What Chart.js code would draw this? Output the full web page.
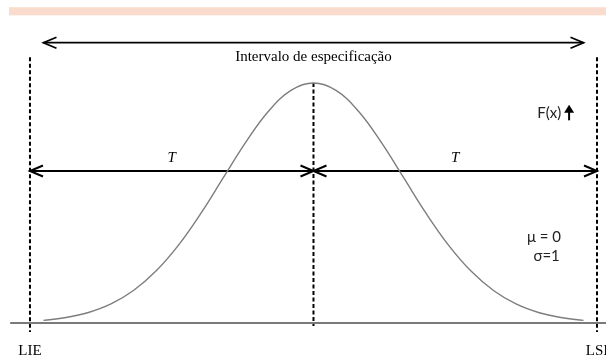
<!DOCTYPE html>
<html>
<head>
<meta charset="utf-8">
<script src="https://cdn.jsdelivr.net/npm/chart.js@4.4.1/dist/chart.umd.min.js"></script>
<style>
html,body{margin:0;padding:0;background:#fff;}
canvas{display:block;}
</style>
</head>
<body>
<canvas id="c" width="606" height="362"></canvas>
<script>
// ---- data (x in sigma units, y = density) ----
const curveX = [-3, -2.75, -2.5, -2.25, -2, -1.75, -1.5, -1.25, -1, -0.75, -0.5, -0.25, 0,
                0.25, 0.5, 0.75, 1, 1.25, 1.5, 1.75, 2, 2.25, 2.5, 2.75, 3];
const curveY = [0.0044, 0.0091, 0.0175, 0.0317, 0.054, 0.0863, 0.1295, 0.1826, 0.242, 0.3011, 0.3521, 0.3867, 0.3989,
                0.3867, 0.3521, 0.3011, 0.242, 0.1826, 0.1295, 0.0863, 0.054, 0.0317, 0.0175, 0.0091, 0.0044];
const specLimits = [-3.15, 3.15];
const specLabels = ['LIE', 'LSI'];
const meanValue = 0;
const peakValue = 0.3989;
const intervalEnds = [-3, 3];
const intervalLabel = 'Intervalo de especificação';
const halfLabel = 'T';
const paramLabels = ['\u03bc = 0', '\u03c3=1'];
const fxLabel = 'F(x)';
const baselineRange = [-3.37, 3.255];
const xRange = [-3.483, 3.25];
const yRange = [-0.0648, 0.537];

// levels (in y units) where the annotation elements sit
const topArrowY = 0.466;
const tArrowY = 0.2527;
const dashTop = 0.442, dashBottom = -0.015, centerDashBottom = -0.005;

function seg(x0, y0, x1, y1, opts) {
  return Object.assign({
    data: [{x: x0, y: y0}, {x: x1, y: y1}],
    showLine: true, pointRadius: 0, borderColor: '#000', borderWidth: 2, fill: false
  }, opts || {});
}

const datasets = [
  seg(baselineRange[0], 0, baselineRange[1], 0, {borderColor: '#7a7a7a', borderWidth: 2}),
  {
    data: curveX.map((x, i) => ({x: x, y: curveY[i]})),
    showLine: true, pointRadius: 0, borderColor: '#7d7d7d', borderWidth: 1.4, tension: 0.4, fill: false
  },
  seg(specLimits[0], dashTop, specLimits[0], dashBottom, {borderDash: [4, 2.5]}),
  seg(specLimits[1], dashTop, specLimits[1], dashBottom, {borderDash: [4, 2.5]}),
  seg(meanValue, peakValue, meanValue, centerDashBottom, {borderDash: [4, 2.5]}),
  seg(intervalEnds[0], topArrowY, intervalEnds[1], topArrowY, {borderWidth: 1.8}),
  seg(specLimits[0], tArrowY, specLimits[1], tArrowY, {borderWidth: 2})
];

function chevron(ctx, px, py, dir) {
  // open arrowhead pointing in dir (+1 right, -1 left)
  ctx.beginPath();
  ctx.moveTo(px - dir * 13, py - 5.5);
  ctx.lineTo(px, py);
  ctx.lineTo(px - dir * 13, py + 5.5);
  ctx.stroke();
}

const decor = {
  id: 'decor',
  beforeDatasetsDraw(chart) {
    const ctx = chart.ctx, xs = chart.scales.x, ys = chart.scales.y;
    ctx.save();
    ctx.fillStyle = '#f9dccd';
    const x0 = xs.getPixelForValue(-3.383), x1 = xs.getPixelForValue(xRange[1]);
    const y0 = ys.getPixelForValue(0.525), y1 = ys.getPixelForValue(0.5115);
    ctx.fillRect(x0, y0, x1 - x0, y1 - y0);
    ctx.restore();
  },
  afterDatasetsDraw(chart) {
    const ctx = chart.ctx, xs = chart.scales.x, ys = chart.scales.y;
    const X = v => xs.getPixelForValue(v), Y = v => ys.getPixelForValue(v);
    ctx.save();
    ctx.strokeStyle = '#000';
    ctx.lineWidth = 1.8;
    ctx.lineJoin = 'miter';
    // top interval arrow
    chevron(ctx, X(intervalEnds[0]), Y(topArrowY), -1);
    chevron(ctx, X(intervalEnds[1]), Y(topArrowY), 1);
    // T arrows
    ctx.lineWidth = 2;
    chevron(ctx, X(specLimits[0]), Y(tArrowY), -1);
    chevron(ctx, X(meanValue), Y(tArrowY), 1);
    chevron(ctx, X(meanValue), Y(tArrowY), -1);
    chevron(ctx, X(specLimits[1]), Y(tArrowY), 1);

    // texts
    ctx.fillStyle = '#000';
    ctx.textAlign = 'center';
    ctx.textBaseline = 'middle';
    ctx.font = '15px "Liberation Serif", "DejaVu Serif", serif';
    ctx.fillText(intervalLabel, X(meanValue), Y(0.442));
    ctx.fillText(specLabels[0], X(specLimits[0]), Y(-0.046));
    ctx.fillText(specLabels[1], X(specLimits[1]), Y(-0.046));
    ctx.font = 'italic 15px "Liberation Serif", "DejaVu Serif", serif';
    ctx.fillText(halfLabel, X((specLimits[0] + meanValue) / 2), Y(0.274));
    ctx.fillText(halfLabel, X((specLimits[1] + meanValue) / 2), Y(0.274));

    ctx.font = '15px Lato, "Open Sans", sans-serif';
    ctx.fillStyle = '#222';
    ctx.fillText(fxLabel, X(2.62), Y(0.349));
    ctx.fillText(paramLabels[0], X(2.56), Y(0.143));
    ctx.fillText(paramLabels[1], X(2.59), Y(0.111));

    // F(x) up arrow
    const ax = X(2.84), ayTop = Y(0.363), ayBot = Y(0.337);
    ctx.strokeStyle = '#000';
    ctx.lineWidth = 2;
    ctx.beginPath();
    ctx.moveTo(ax, ayBot);
    ctx.lineTo(ax, ayTop + 5);
    ctx.stroke();
    ctx.fillStyle = '#000';
    ctx.beginPath();
    ctx.moveTo(ax, ayTop);
    ctx.lineTo(ax - 5, ayTop + 8);
    ctx.lineTo(ax + 5, ayTop + 8);
    ctx.closePath();
    ctx.fill();
    ctx.restore();
  }
};

new Chart(document.getElementById('c'), {
  type: 'scatter',
  data: {datasets: datasets},
  options: {
    responsive: false,
    animation: false,
    devicePixelRatio: 1,
    layout: {padding: 0},
    plugins: {legend: {display: false}, tooltip: {enabled: false}},
    scales: {
      x: {type: 'linear', min: xRange[0], max: xRange[1], display: false},
      y: {type: 'linear', min: yRange[0], max: yRange[1], display: false}
    }
  },
  plugins: [decor]
});
</script>
</body>
</html>
